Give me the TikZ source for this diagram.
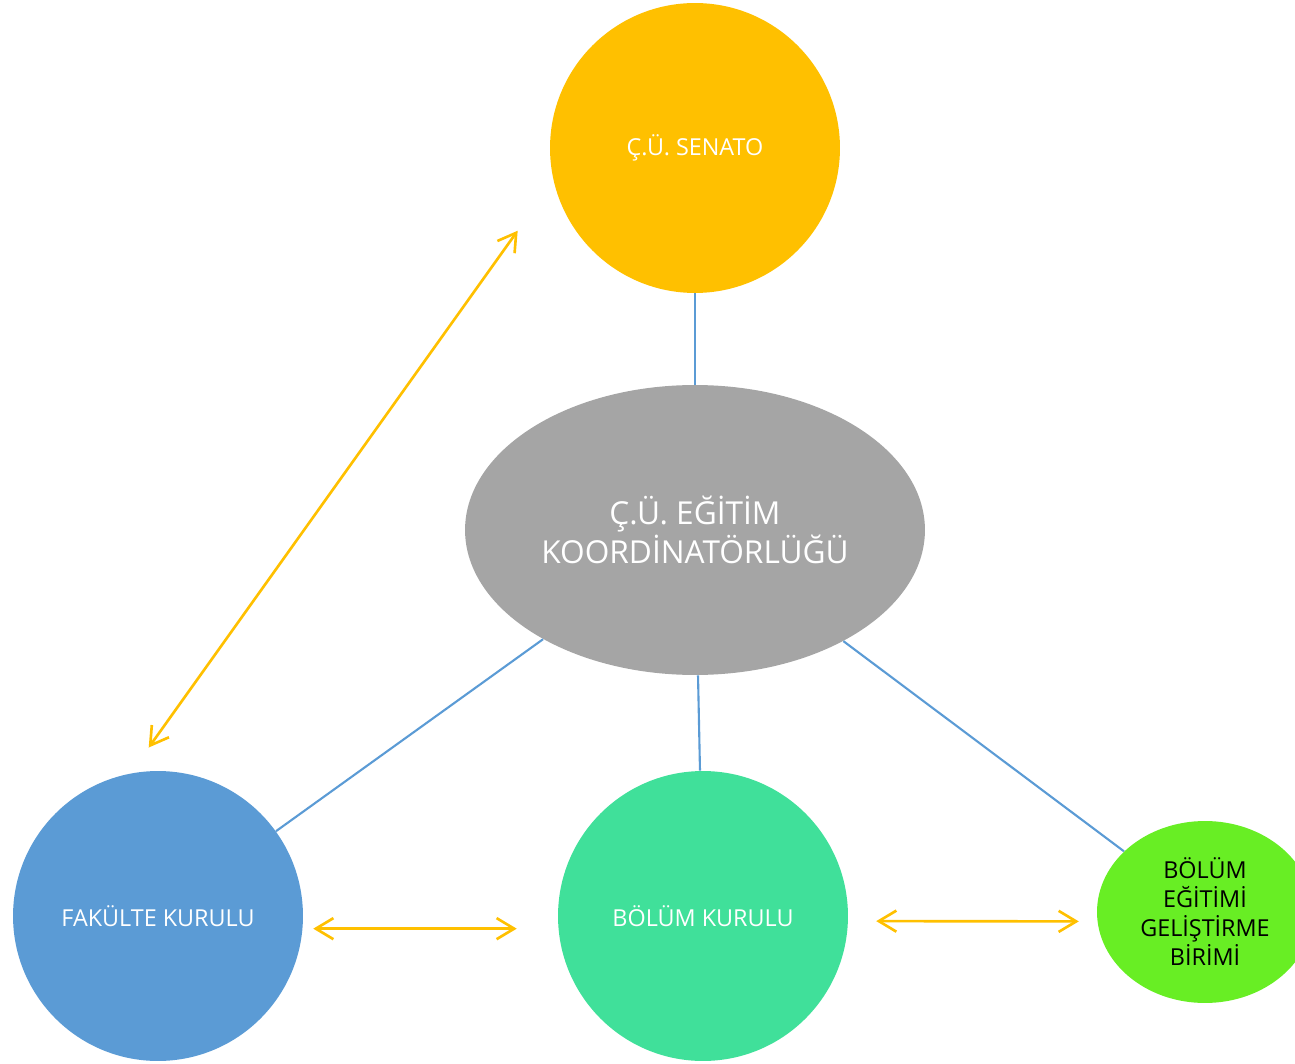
\documentclass[tikz,border=0pt]{standalone}
\usepackage{fontspec}
\setmainfont{Open Sans}
\usetikzlibrary{shapes.geometric,arrows.meta}

\definecolor{senato}{HTML}{FFC000}
\definecolor{koor}{HTML}{A5A5A5}
\definecolor{fakulte}{HTML}{5B9BD5}
\definecolor{bolum}{HTML}{40E09A}
\definecolor{birim}{HTML}{68EE24}
\definecolor{linkblue}{HTML}{5B9BD5}
\definecolor{flowgold}{HTML}{FFC000}

\begin{document}
\begin{tikzpicture}[x=0.02cm,y=-0.02cm,
  council/.style={circle,minimum size=5.8cm,inner sep=0pt,text=white,align=center,
    font=\fontsize{13.3}{16.5}\selectfont},
  link/.style={draw=linkblue,line width=1.2pt},
  flow/.style={draw=flowgold,line width=1.5pt,
    {Straight Barb[length=10pt,width=12pt]}-{Straight Barb[length=10pt,width=12pt]}}]
	   \useasboundingbox (0,0) rectangle (1295,1064);
	   \clip (0,0) rectangle (1295,1064);
	   \node[council,fill=senato] (sen) at (695,148) {Ç.Ü. SENATO};
	   \node[ellipse,fill=koor,minimum width=9.2cm,minimum height=5.8cm,inner sep=0pt,
	     text=white,align=center,font=\fontsize{18}{22}\selectfont] (koor) at (695,530)
	     {Ç.Ü. EĞİTİM\\KOORDİNATÖRLÜĞÜ};
	   \node[council,fill=fakulte] (fak) at (158,916) {FAKÜLTE KURULU};
	   \node[council,fill=bolum] (bol) at (703,916) {BÖLÜM KURULU};
	   \node[ellipse,fill=birim,minimum width=4.32cm,minimum height=3.64cm,inner sep=0pt,
	     align=center,font=\fontsize{13.3}{16.5}\selectfont] (beg) at (1205,912)
	     {BÖLÜM\\EĞİTİMİ\\GELİŞTİRME\\BİRİMİ};
	    \path[link]
	    (koor) edge (sen)
	           edge (fak)
	           edge (bol)
	           edge (beg);
	    \path
	    (sen.193) edge [flow,shorten <=1.23cm,shorten >=0.635cm] (fak.101)
	    (fak.-5)  edge [flow,shorten <=0.21cm,shorten >=0.83cm] (bol.185)
	    (bol.-2)  edge [flow,shorten <=0.56cm,shorten >=0.37cm] (beg.185);
	\end{tikzpicture}
\end{document}
